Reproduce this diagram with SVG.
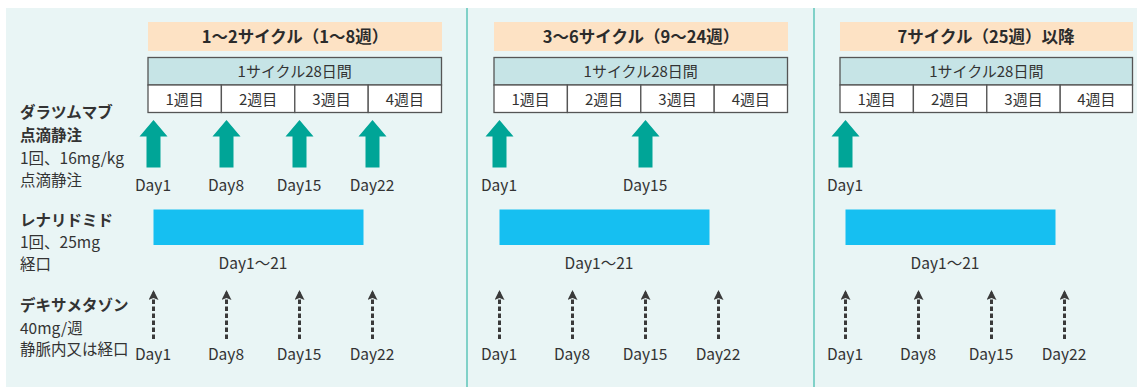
<svg xmlns="http://www.w3.org/2000/svg" width="1137" height="390" viewBox="0 0 1137 390">
<style>
text{font-family:"Noto Sans CJK JP","Noto Sans",sans-serif;fill:#333;}
.h{font-size:16.5px;font-weight:bold;text-anchor:middle;fill:#2b2b2b;}
.t{font-size:15px;text-anchor:middle;}
.d{font-size:15.5px;text-anchor:middle;}
.lb{font-size:15.5px;font-weight:bold;}
.l{font-size:15.5px;}
.hdr{fill:#fde2c4;}
.tb{fill:#c6e4e6;stroke:#555;stroke-width:1.3;}
.tw{fill:#fff;stroke:#555;stroke-width:1.3;}
.bar{fill:#16bff1;}
.ar{fill:#00a597;}
.dash{stroke:#3a3a3a;stroke-width:3;stroke-dasharray:4.5 2.5;fill:none;}
.div{stroke:#5cc4b9;stroke-width:1.5;}
</style>
<defs>
<path id="ta" d="M-14,16.5 L0,0 L14,16.5 L7,16.5 L7,47.5 L-7,47.5 L-7,16.5 Z"/>
<marker id="ah" viewBox="0 0 10 10" refX="9" refY="5" markerWidth="10" markerHeight="10" markerUnits="userSpaceOnUse" orient="auto">
<path d="M0,0 L10,5 L0,10 L2,5 Z" fill="#3a3a3a"/>
</marker>
</defs>
<rect x="6" y="8" width="1131" height="379" fill="#e9f5f5"/>
<line class="div" x1="467" y1="8" x2="467" y2="387"/>
<line class="div" x1="814" y1="8" x2="814" y2="387"/>

<g id="labels">
<text class="lb" x="20" y="118">ダラツムマブ</text>
<text class="lb" x="20" y="141">点滴静注</text>
<text class="l" x="20" y="164">1回、16mg/kg</text>
<text class="l" x="20" y="186">点滴静注</text>
<text class="lb" x="20" y="226">レナリドミド</text>
<text class="l" x="20" y="248">1回、25mg</text>
<text class="l" x="20" y="270">経口</text>
<text class="lb" x="20" y="311">デキサメタゾン</text>
<text class="l" x="20" y="334">40mg/週</text>
<text class="l" x="20" y="355">静脈内又は経口</text>
</g>

<g id="panel1">
<rect class="hdr" x="148" y="22" width="294" height="29"/>
<text class="h" x="295" y="43">1〜2サイクル（1〜8週）</text>
<rect class="tb" x="148" y="57.5" width="293.5" height="27.5"/>
<text class="t" x="294.7" y="77">1サイクル28日間</text>
<rect class="tw" x="148" y="85" width="73.4" height="27.5"/>
<rect class="tw" x="221.4" y="85" width="73.4" height="27.5"/>
<rect class="tw" x="294.8" y="85" width="73.4" height="27.5"/>
<rect class="tw" x="368.2" y="85" width="73.3" height="27.5"/>
<text class="t" x="184.7" y="105">1週目</text>
<text class="t" x="258.1" y="105">2週目</text>
<text class="t" x="331.5" y="105">3週目</text>
<text class="t" x="404.9" y="105">4週目</text>
<use href="#ta" class="ar" x="153.5" y="120"/>
<use href="#ta" class="ar" x="226.5" y="120"/>
<use href="#ta" class="ar" x="299.5" y="120"/>
<use href="#ta" class="ar" x="372.5" y="120"/>
<text class="d" x="153" y="191">Day1</text>
<text class="d" x="226" y="191">Day8</text>
<text class="d" x="299" y="191">Day15</text>
<text class="d" x="372" y="191">Day22</text>
<rect class="bar" x="153.5" y="209.5" width="210" height="35.5"/>
<text class="d" x="253" y="269">Day1〜21</text>
<text class="d" x="153" y="360">Day1</text>
<text class="d" x="226" y="360">Day8</text>
<text class="d" x="299" y="360">Day15</text>
<text class="d" x="372" y="360">Day22</text>
</g>

<g id="panel2">
<rect class="hdr" x="494" y="22" width="294" height="29"/>
<text class="h" x="641" y="43">3〜6サイクル（9〜24週）</text>
<rect class="tb" x="494" y="57.5" width="293.5" height="27.5"/>
<text class="t" x="640.7" y="77">1サイクル28日間</text>
<rect class="tw" x="494" y="85" width="73.4" height="27.5"/>
<rect class="tw" x="567.4" y="85" width="73.4" height="27.5"/>
<rect class="tw" x="640.8" y="85" width="73.4" height="27.5"/>
<rect class="tw" x="714.2" y="85" width="73.3" height="27.5"/>
<text class="t" x="530.7" y="105">1週目</text>
<text class="t" x="604.1" y="105">2週目</text>
<text class="t" x="677.5" y="105">3週目</text>
<text class="t" x="750.9" y="105">4週目</text>
<use href="#ta" class="ar" x="499.5" y="120"/>
<use href="#ta" class="ar" x="645.5" y="120"/>
<text class="d" x="499" y="191">Day1</text>
<text class="d" x="645" y="191">Day15</text>
<rect class="bar" x="499.5" y="209.5" width="210" height="35.5"/>
<text class="d" x="599" y="269">Day1〜21</text>
<text class="d" x="499" y="360">Day1</text>
<text class="d" x="572" y="360">Day8</text>
<text class="d" x="645" y="360">Day15</text>
<text class="d" x="718" y="360">Day22</text>
</g>

<g id="panel3">
<rect class="hdr" x="840" y="22" width="293" height="29"/>
<text class="h" x="986" y="43">7サイクル（25週）以降</text>
<rect class="tb" x="840" y="57.5" width="292.5" height="27.5"/>
<text class="t" x="986.3" y="77">1サイクル28日間</text>
<rect class="tw" x="840" y="85" width="73.4" height="27.5"/>
<rect class="tw" x="913.4" y="85" width="73.4" height="27.5"/>
<rect class="tw" x="986.8" y="85" width="73.4" height="27.5"/>
<rect class="tw" x="1060.2" y="85" width="72.3" height="27.5"/>
<text class="t" x="876.7" y="105">1週目</text>
<text class="t" x="950.1" y="105">2週目</text>
<text class="t" x="1023.5" y="105">3週目</text>
<text class="t" x="1096.4" y="105">4週目</text>
<use href="#ta" class="ar" x="845.5" y="120"/>
<text class="d" x="845" y="191">Day1</text>
<rect class="bar" x="845.5" y="209.5" width="210" height="35.5"/>
<text class="d" x="945" y="269">Day1〜21</text>
<text class="d" x="845" y="360">Day1</text>
<text class="d" x="918" y="360">Day8</text>
<text class="d" x="991" y="360">Day15</text>
<text class="d" x="1064" y="360">Day22</text>
</g>

<g id="connectors">
<line class="dash" x1="153.5" y1="339" x2="153.5" y2="291" marker-end="url(#ah)"/>
<line class="dash" x1="226.5" y1="339" x2="226.5" y2="291" marker-end="url(#ah)"/>
<line class="dash" x1="299.5" y1="339" x2="299.5" y2="291" marker-end="url(#ah)"/>
<line class="dash" x1="372.5" y1="339" x2="372.5" y2="291" marker-end="url(#ah)"/>
<line class="dash" x1="499.5" y1="339" x2="499.5" y2="291" marker-end="url(#ah)"/>
<line class="dash" x1="572.5" y1="339" x2="572.5" y2="291" marker-end="url(#ah)"/>
<line class="dash" x1="645.5" y1="339" x2="645.5" y2="291" marker-end="url(#ah)"/>
<line class="dash" x1="718.5" y1="339" x2="718.5" y2="291" marker-end="url(#ah)"/>
<line class="dash" x1="845.5" y1="339" x2="845.5" y2="291" marker-end="url(#ah)"/>
<line class="dash" x1="918.5" y1="339" x2="918.5" y2="291" marker-end="url(#ah)"/>
<line class="dash" x1="991.5" y1="339" x2="991.5" y2="291" marker-end="url(#ah)"/>
<line class="dash" x1="1064.5" y1="339" x2="1064.5" y2="291" marker-end="url(#ah)"/>
</g>
</svg>
